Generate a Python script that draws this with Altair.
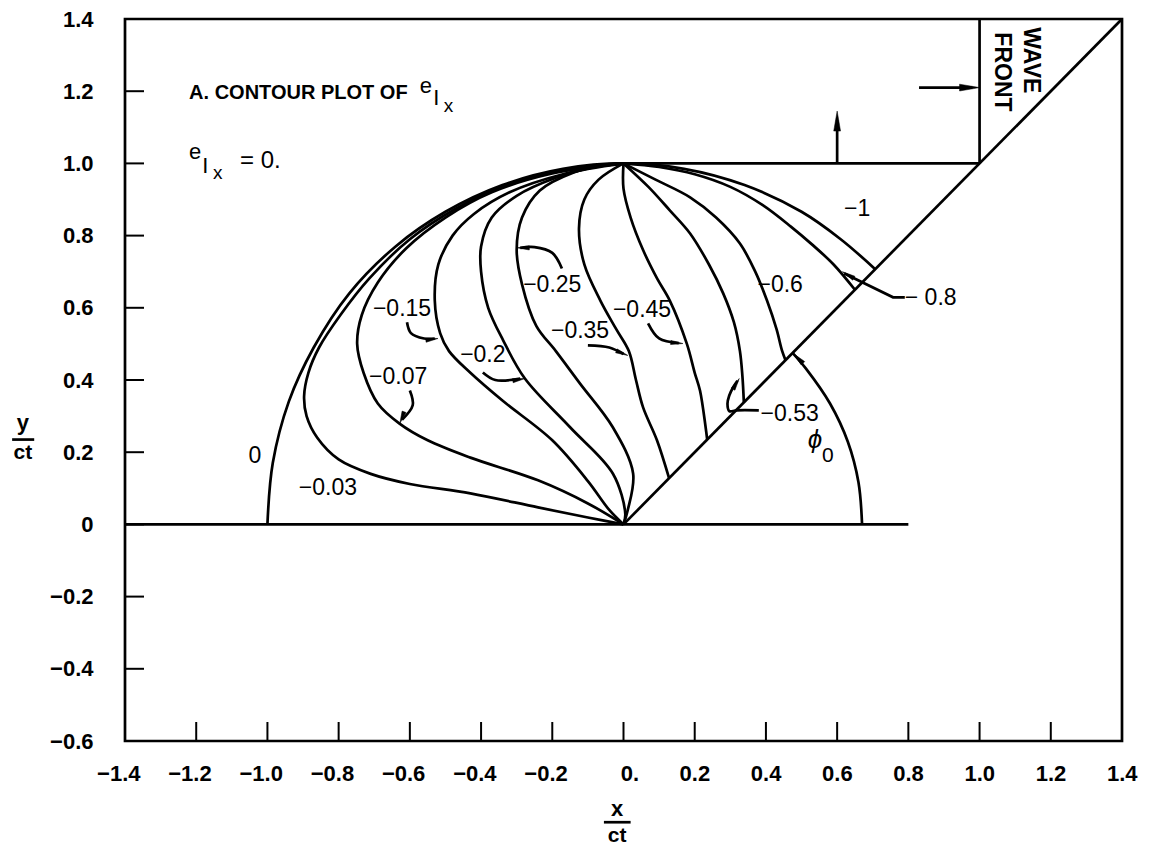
import json
import altair as alt
import pandas as pd

# ---------------------------------------------------------------- axes
x_ticks = [-1.4, -1.2, -1.0, -0.8, -0.6, -0.4, -0.2, 0.0, 0.2, 0.4, 0.6, 0.8, 1.0, 1.2, 1.4]
x_tick_labels = ["−1.4", "−1.2", "−1.0", "−0.8", "−0.6", "−0.4", "−0.2", "0.",
                 "0.2", "0.4", "0.6", "0.8", "1.0", "1.2", "1.4"]
y_ticks = [-0.6, -0.4, -0.2, 0.0, 0.2, 0.4, 0.6, 0.8, 1.0, 1.2, 1.4]
y_tick_labels = ["−0.6", "−0.4", "−0.2", "0", "0.2", "0.4", "0.6", "0.8", "1.0", "1.2", "1.4"]

# ---------------------------------------------------------------- contours of e_Ix  (x/ct, y/ct)
contour_0 = [(-1.0, 0.0), (-0.985, 0.17), (-0.94, 0.34), (-0.87, 0.49), (-0.77, 0.64),
             (-0.64, 0.77), (-0.5, 0.866), (-0.34, 0.94), (-0.17, 0.985), (0.0, 1.0),
             (0.17, 0.985), (0.34, 0.94), (0.5, 0.866), (0.61, 0.79), (0.707, 0.707)]
contour_m003 = [(0.0, 0.0), (-0.10, 0.019), (-0.24, 0.047), (-0.43, 0.086), (-0.60, 0.112),
                (-0.71, 0.14), (-0.80, 0.18), (-0.86, 0.24), (-0.89, 0.30), (-0.897, 0.355),
                (-0.885, 0.42), (-0.855, 0.49), (-0.795, 0.58), (-0.715, 0.68), (-0.60, 0.79),
                (-0.47, 0.875), (-0.33, 0.94), (-0.16, 0.983), (0.0, 1.0)]
contour_m007 = [(0.0, 0.0), (-0.10, 0.058), (-0.24, 0.122), (-0.43, 0.185), (-0.55, 0.233),
                (-0.63, 0.28), (-0.69, 0.335), (-0.73, 0.42), (-0.748, 0.50), (-0.735, 0.58),
                (-0.69, 0.67), (-0.61, 0.765), (-0.50, 0.85), (-0.37, 0.92), (-0.20, 0.972),
                (0.0, 1.0)]
contour_m015 = [(0.0, 0.0), (-0.04, 0.04), (-0.10, 0.12), (-0.20, 0.233), (-0.34, 0.343),
                (-0.43, 0.42), (-0.49, 0.48), (-0.515, 0.53), (-0.53, 0.62), (-0.52, 0.72),
                (-0.48, 0.80), (-0.42, 0.86), (-0.32, 0.92), (-0.17, 0.97), (0.0, 1.0)]
contour_m02 = [(0.0, 0.0), (0.005, 0.03), (-0.03, 0.141), (-0.15, 0.269), (-0.277, 0.404),
               (-0.338, 0.51), (-0.38, 0.60), (-0.40, 0.70), (-0.40, 0.77), (-0.37, 0.85),
               (-0.30, 0.91), (-0.19, 0.96), (-0.08, 0.99), (0.0, 1.0)]
contour_m025 = [(0.0, 0.0), (0.012, 0.04), (0.027, 0.141), (-0.03, 0.269), (-0.122, 0.39),
                (-0.19, 0.48), (-0.245, 0.55), (-0.285, 0.665), (-0.30, 0.76), (-0.285, 0.85),
                (-0.235, 0.925), (-0.14, 0.975), (-0.05, 0.997), (0.0, 1.0)]
contour_m035 = [(0.0, 1.0), (-0.07, 0.955), (-0.11, 0.90), (-0.125, 0.82), (-0.11, 0.72),
                (-0.065, 0.62), (-0.02, 0.54), (0.015, 0.48), (0.035, 0.40), (0.055, 0.324),
                (0.094, 0.233), (0.128, 0.128)]
contour_m045 = [(0.0, 1.0), (0.0, 0.93), (0.02, 0.85), (0.055, 0.76), (0.095, 0.68),
                (0.13, 0.62), (0.178, 0.50), (0.20, 0.42), (0.215, 0.37), (0.235, 0.235)]
contour_m053 = [(0.0, 1.0), (0.07, 0.935), (0.13, 0.87), (0.187, 0.806), (0.24, 0.72),
                (0.28, 0.64), (0.31, 0.56), (0.327, 0.48), (0.334, 0.41), (0.338, 0.338)]
contour_m06 = [(0.0, 1.0), (0.09, 0.955), (0.187, 0.906), (0.26, 0.85), (0.327, 0.778),
               (0.37, 0.70), (0.403, 0.62), (0.43, 0.54), (0.445, 0.482), (0.455, 0.455)]
contour_m08 = [(0.0, 1.0), (0.10, 0.99), (0.20, 0.97), (0.30, 0.935), (0.39, 0.885),
               (0.47, 0.825), (0.53, 0.775), (0.59, 0.72), (0.65, 0.65)]

# angle phi_0 measured from the x axis
phi_arc = [(0.67, 0.0), (0.66, 0.116), (0.63, 0.229), (0.58, 0.335), (0.513, 0.431), (0.476, 0.474)]

# curved leaders from the level labels to their contours
leader_m007 = [(-0.60, 0.371), (-0.592, 0.33), (-0.622, 0.29)]
leader_m015 = [(-0.608, 0.56), (-0.597, 0.53), (-0.56, 0.515), (-0.53, 0.515)]
leader_m02 = [(-0.395, 0.421), (-0.36, 0.40), (-0.29, 0.404)]
leader_m025 = [(-0.173, 0.709), (-0.20, 0.752), (-0.25, 0.768), (-0.29, 0.766)]
leader_m035 = [(-0.10, 0.496), (-0.04, 0.49), (0.0, 0.472)]
leader_m045 = [(0.069, 0.557), (0.10, 0.515), (0.155, 0.502)]
leader_m053 = [(0.38, 0.316), (0.318, 0.316), (0.297, 0.314), (0.292, 0.334), (0.297, 0.357),
               (0.308, 0.38), (0.32, 0.398)]

# straight geometry: ground line, 45 degree ray, wave front, arrows, fraction bars
ground = [(-1.4, 0.0), (0.8, 0.0)]
ray = [(0.0, 0.0), (1.4, 1.4)]
front_top = [(0.0, 1.0), (1.0, 1.0)]
front_side = [(1.0, 1.0), (1.0, 1.4)]
arrow_up = [(0.6, 1.0), (0.6, 1.12)]
arrow_right = [(0.83, 1.21), (0.98, 1.21)]
leader_m08 = [(0.62, 0.695), (0.757, 0.629), (0.79, 0.629)]
ybar = [(-1.717, 0.235), (-1.655, 0.235)]
xbar = [(-0.055, -0.825), (0.02, -0.825)]

# arrow heads: tip x, tip y, heading (deg, clockwise from up), size
head_x = [-0.628, -0.521, -0.277, -0.299, 0.012, 0.167, 0.325, 0.615, 0.476, 0.6, 1.0]
head_y = [0.28, 0.515, 0.404, 0.766, 0.468, 0.501, 0.404, 0.70, 0.474, 1.145, 1.21]
head_angle = [200, 82, 80, 270, 112, 95, 30, 300, 315, 0, 90]
head_size = [150, 150, 150, 150, 150, 150, 150, 170, 200, 400, 400]

# level labels
level_text = ["0", "−0.03", "−0.07", "−0.15", "−0.2", "−0.25", "−0.35", "−0.45", "−0.6", "−1"]
level_x = [-1.035, -0.83, -0.633, -0.622, -0.395, -0.20, -0.122, 0.052, 0.44, 0.656]
level_y = [0.19, 0.10, 0.407, 0.598, 0.468, 0.662, 0.535, 0.593, 0.662, 0.875]
side_text = ["−0.53", "− 0.8"]
side_x = [0.385, 0.79]
side_y = [0.307, 0.626]


def frame(named):
    rows = []
    for name, pts in named.items():
        for i, (x, y) in enumerate(pts):
            rows.append({"id": name, "i": i, "x": x, "y": y})
    return pd.DataFrame(rows)


curves = frame({
    "0": contour_0, "-0.03": contour_m003, "-0.07": contour_m007, "-0.15": contour_m015,
    "-0.2": contour_m02, "-0.25": contour_m025, "-0.35": contour_m035, "-0.45": contour_m045,
    "-0.53": contour_m053, "-0.6": contour_m06, "-0.8": contour_m08, "phi": phi_arc,
    "l007": leader_m007, "l015": leader_m015, "l02": leader_m02, "l025": leader_m025,
    "l035": leader_m035, "l045": leader_m045, "l053": leader_m053,
})
straights = frame({
    "ground": ground, "ray": ray, "front_top": front_top, "front_side": front_side,
    "up": arrow_up, "right": arrow_right, "l08": leader_m08, "ybar": ybar, "xbar": xbar,
})
heads = pd.DataFrame({"x": head_x, "y": head_y, "angle": head_angle, "size": head_size})
levels = pd.DataFrame({"x": level_x, "y": level_y, "text": level_text})
sides = pd.DataFrame({"x": side_x, "y": side_y, "text": side_text})

FONT = "Liberation Sans"
W, H = 997, 722
xs = alt.Scale(domain=[-1.4, 1.4], nice=False, zero=False)
ys = alt.Scale(domain=[-0.6, 1.4], nice=False, zero=False)

x_axis = alt.Axis(
    values=x_ticks, title=None, grid=False, domain=False, ticks=False, tickSize=0,
    labelExpr=f"{json.dumps(x_tick_labels, ensure_ascii=False)}[round((datum.value + 1.4) / 0.2)]",
    labelFont=FONT, labelFontSize=22, labelFontWeight="bold", labelColor="black",
    labelPadding=22, labelAlign="right", labelOffset=15, labelFlush=False, labelOverlap=False,
)
y_axis = alt.Axis(
    values=y_ticks, title=None, grid=False, domain=False, ticks=False, tickSize=0,
    labelExpr=f"{json.dumps(y_tick_labels, ensure_ascii=False)}[round((datum.value + 0.6) / 0.2)]",
    labelFont=FONT, labelFontSize=22, labelFontWeight="bold", labelColor="black",
    labelPadding=32, labelAlign="right", labelBaseline="middle", labelFlush=False,
    labelOverlap=False,
)


def X(field="x"):
    return alt.X(f"{field}:Q", scale=xs, axis=x_axis)


def Y(field="y"):
    return alt.Y(f"{field}:Q", scale=ys, axis=y_axis)


# inward tick marks on the left and bottom edges
xtick_layer = alt.Chart(pd.DataFrame({"x": x_ticks})).mark_rule(
    color="black", strokeWidth=2
).encode(x=X(), y=alt.value(H), y2=alt.value(H - 19))
ytick_layer = alt.Chart(pd.DataFrame({"y": y_ticks})).mark_rule(
    color="black", strokeWidth=2
).encode(y=Y(), x=alt.value(0), x2=alt.value(19))

straight_layer = alt.Chart(straights).mark_line(
    color="black", strokeWidth=2.7, strokeCap="butt"
).encode(x=X(), y=Y(), detail="id:N", order="i:Q")

curve_layer = alt.Chart(curves).mark_line(
    color="black", strokeWidth=2.7, interpolate="catmull-rom"
).encode(x=X(), y=Y(), detail="id:N", order="i:Q")

head_layer = alt.Chart(heads).mark_point(
    shape="M0,0L0.34,2L-0.34,2Z", filled=True, fill="black", stroke="black",
    strokeWidth=0.5, opacity=1
).encode(
    x=X(), y=Y(),
    angle=alt.Angle("angle:Q", scale=None),
    size=alt.Size("size:Q", scale=None, legend=None),
)

level_layer = alt.Chart(levels).mark_text(
    font=FONT, fontSize=23, color="black", align="center", baseline="middle"
).encode(x=X(), y=Y(), text="text:N")

side_layer = alt.Chart(sides).mark_text(
    font=FONT, fontSize=23, color="black", align="left", baseline="middle"
).encode(x=X(), y=Y(), text="text:N")


def note(text, x, y, size=20, weight="normal", align="left", angle=0, baseline="middle",
         style="normal"):
    return alt.Chart(pd.DataFrame({"x": [x], "y": [y], "text": [text]})).mark_text(
        font=FONT, fontSize=size, fontWeight=weight, color="black", align=align,
        baseline=baseline, angle=angle, fontStyle=style,
    ).encode(x=X(), y=Y(), text="text:N")


notes = [
    note("A.  CONTOUR PLOT OF", -1.22, 1.194, 20, "bold"),
    note("e", -0.572, 1.215, 22),
    note("I", -0.534, 1.180, 22),
    note("x", -0.505, 1.160, 19),
    note("e", -1.22, 1.032, 22),
    note("I", -1.183, 0.994, 22),
    note("x", -1.153, 0.973, 19),
    note("= 0.", -1.077, 1.008, 24),
    note("WAVE", 1.145, 1.377, 23, "bold", angle=90),
    note("FRONT", 1.063, 1.363, 23, "bold", angle=90),
    note("ϕ", 0.538, 0.233, 26, style="italic", align="center"),
    note("0", 0.574, 0.19, 21, align="center"),
    note("y", -1.687, 0.28, 22, "bold", align="center"),
    note("ct", -1.687, 0.197, 21, "bold", align="center"),
    note("x", -0.018, -0.787, 22, "bold", align="center"),
    note("ct", -0.018, -0.864, 21, "bold", align="center"),
]

chart = alt.layer(
    xtick_layer, ytick_layer, straight_layer, curve_layer, head_layer,
    level_layer, side_layer, *notes,
).properties(
    width=W, height=H,
    padding={"left": 125, "top": 19, "right": 34, "bottom": 112},
    autosize=alt.AutoSizeParams(type="none"),
).configure_view(stroke="black", strokeWidth=2.7)

chart.save("out.html", embed_options={"renderer": "svg", "actions": False})
